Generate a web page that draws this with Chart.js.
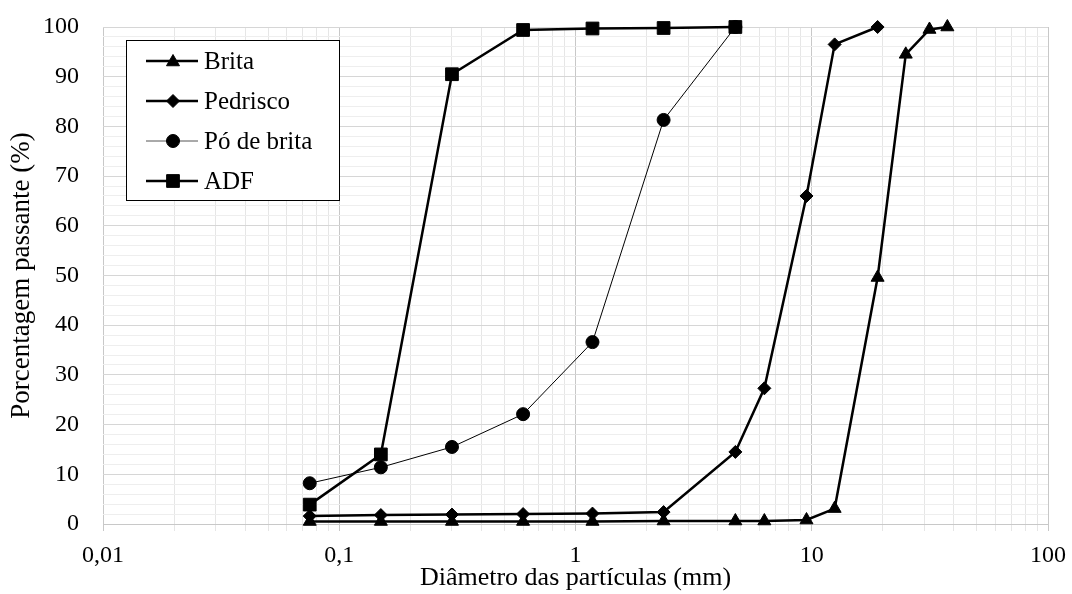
<!DOCTYPE html>
<html>
<head>
<meta charset="utf-8">
<script src="https://cdn.jsdelivr.net/npm/chart.js@4/dist/chart.umd.min.js"></script>
<style>
  html, body { margin: 0; padding: 0; background: #fff; }
  #wrap { width: 1072px; height: 594px; }
</style>
</head>
<body>
<div id="wrap"><canvas id="c"></canvas></div>
<script>
// abertura das peneiras (mm)
const SIEVES = [0.075, 0.15, 0.3, 0.6, 1.18, 2.36, 4.75, 6.3, 9.5, 12.5, 19, 25, 31.5, 37.5];

// % passante
const BRITA    = [0.5, 0.5, 0.5, 0.5, 0.5, 0.6, 0.6, 0.6, 0.8, 3.1, 49.6, 94.5, 99.5, 100];
const PEDRISCO = [1.6, 1.8, 1.9, 2.0, 2.1, 2.4, 14.5, 27.3, 66.0, 96.5, 100];
const PO_BRITA = [8.2, 11.4, 15.5, 22.1, 36.6, 81.3, 100];
const ADF      = [3.9, 14.0, 90.5, 99.4, 99.7, 99.8, 100];

const SERIES_NAMES = ['Brita', 'Pedrisco', 'Pó de brita', 'ADF'];

// grade do eixo x (log): décadas + 2..9
const X_DECADES = [0.01, 0.1, 1, 10, 100];
const X_MINOR = [2, 3, 4, 5, 6, 7, 8, 9];

const FONT = "'Liberation Serif', 'Times New Roman', serif";

function pts(vals) {
  return vals.map((v, i) => ({ x: SIEVES[i], y: v }));
}

const isDecade = v => X_DECADES.some(d => Math.abs(v - d) < d * 1e-6);

const styles = [
  { pointStyle: 'triangle', pointRadius: 7.5, borderWidth: 2.5 },
  { pointStyle: 'rectRot',  pointRadius: 6.5, borderWidth: 2.5 },
  { pointStyle: 'circle',   pointRadius: 6.5, borderWidth: 1 },
  { pointStyle: 'rect',     pointRadius: 9, borderWidth: 2.5 }
];

const datasets = [BRITA, PEDRISCO, PO_BRITA, ADF].map((vals, i) => ({
  label: SERIES_NAMES[i],
  data: pts(vals),
  borderColor: '#000',
  backgroundColor: '#000',
  pointBackgroundColor: '#000',
  pointBorderColor: '#000',
  pointBorderWidth: 1,
  pointStyle: styles[i].pointStyle,
  pointRadius: styles[i].pointRadius,
  borderWidth: styles[i].borderWidth,
  tension: 0,
  clip: false
}));

// marcador simples para a legenda
function marker(ctx, style, x, y, r) {
  ctx.beginPath();
  if (style === 'triangle') {
    ctx.moveTo(x, y - r);
    ctx.lineTo(x + r * 0.866, y + r * 0.5);
    ctx.lineTo(x - r * 0.866, y + r * 0.5);
    ctx.closePath();
  } else if (style === 'rectRot') {
    ctx.moveTo(x - r, y); ctx.lineTo(x, y - r); ctx.lineTo(x + r, y); ctx.lineTo(x, y + r);
    ctx.closePath();
  } else if (style === 'circle') {
    ctx.arc(x, y, r, 0, Math.PI * 2);
  } else {
    const s = r * Math.SQRT1_2;
    ctx.rect(x - s, y - s, 2 * s, 2 * s);
  }
  ctx.fill();
  ctx.stroke();
}

const boxLegend = {
  id: 'boxLegend',
  afterDatasetsDraw(chart) {
    const ctx = chart.ctx;
    const bx = 126, by = 40, bw = 213, bh = 160;
    ctx.save();
    ctx.fillStyle = '#fff';
    ctx.fillRect(bx, by, bw, bh);
    ctx.strokeStyle = '#000';
    ctx.lineWidth = 1;
    ctx.strokeRect(bx + 0.5, by + 0.5, bw, bh);
    chart.data.datasets.forEach((ds, i) => {
      const y = by + 21 + i * 40;
      ctx.strokeStyle = i === 2 ? '#555' : '#000';
      ctx.lineWidth = ds.borderWidth;
      ctx.beginPath();
      ctx.moveTo(146, y); ctx.lineTo(198, y);
      ctx.stroke();
      ctx.fillStyle = '#000';
      ctx.strokeStyle = '#000';
      ctx.lineWidth = 1;
      marker(ctx, ds.pointStyle, 173, y + (ds.pointStyle === 'triangle' ? 1 : 0), ds.pointRadius);
      ctx.fillStyle = '#000';
      ctx.font = '25px ' + FONT;
      ctx.textBaseline = 'middle';
      ctx.textAlign = 'left';
      ctx.fillText(ds.label, 204, y + 1);
    });
    ctx.restore();
  }
};

new Chart(document.getElementById('c'), {
  type: 'line',
  data: { datasets },
  plugins: [boxLegend],
  options: {
    responsive: true,
    maintainAspectRatio: false,
    animation: false,
    layout: { padding: { top: 27, right: 24, left: 0, bottom: 0 } },
    plugins: { legend: { display: false }, tooltip: { enabled: false } },
    scales: {
      x: {
        type: 'logarithmic',
        min: 0.01,
        max: 100,
        afterBuildTicks(scale) {
          const t = [];
          X_DECADES.forEach((d, k) => {
            t.push({ value: d, major: true });
            if (k < X_DECADES.length - 1) X_MINOR.forEach(m => t.push({ value: d * m }));
          });
          scale.ticks = t;
        },
        afterFit(scale) {
          scale.height = 70;
          scale.paddingLeft = 0;
          scale.paddingRight = 0;
        },
        ticks: {
          autoSkip: false,
          maxRotation: 0,
          padding: 10,
          color: '#000',
          font: { family: FONT, size: 24 },
          callback: v => isDecade(v) ? String(v).replace('.', ',') : ''
        },
        grid: {
          color: c => c.tick && isDecade(c.tick.value) ? '#c8c8c8' : '#e6e6e6',
          lineWidth: 1,
          tickLength: 7
        },
        border: { color: '#c8c8c8' },
        title: {
          display: true,
          text: 'Diâmetro das partículas (mm)',
          color: '#000',
          font: { family: FONT, size: 26 },
          padding: { top: 0, bottom: 0 }
        }
      },
      y: {
        min: 0,
        max: 100,
        afterFit(scale) {
          scale.width = 103;
          scale.paddingTop = 0;
          scale.paddingBottom = 0;
        },
        ticks: {
          stepSize: 2,
          autoSkip: false,
          padding: 24,
          color: '#000',
          font: { family: FONT, size: 24 },
          callback: v => v % 10 === 0 ? v : ''
        },
        grid: {
          color: c => c.tick && c.tick.value % 10 === 0 ? '#d6d6d6' : '#eeeeee',
          lineWidth: 1,
          drawTicks: false
        },
        border: { display: false },
        title: {
          display: true,
          text: 'Porcentagem passante (%)',
          color: '#000',
          font: { family: FONT, size: 27 },
          padding: { top: 6, bottom: 0 }
        }
      }
    }
  }
});
</script>
</body>
</html>
